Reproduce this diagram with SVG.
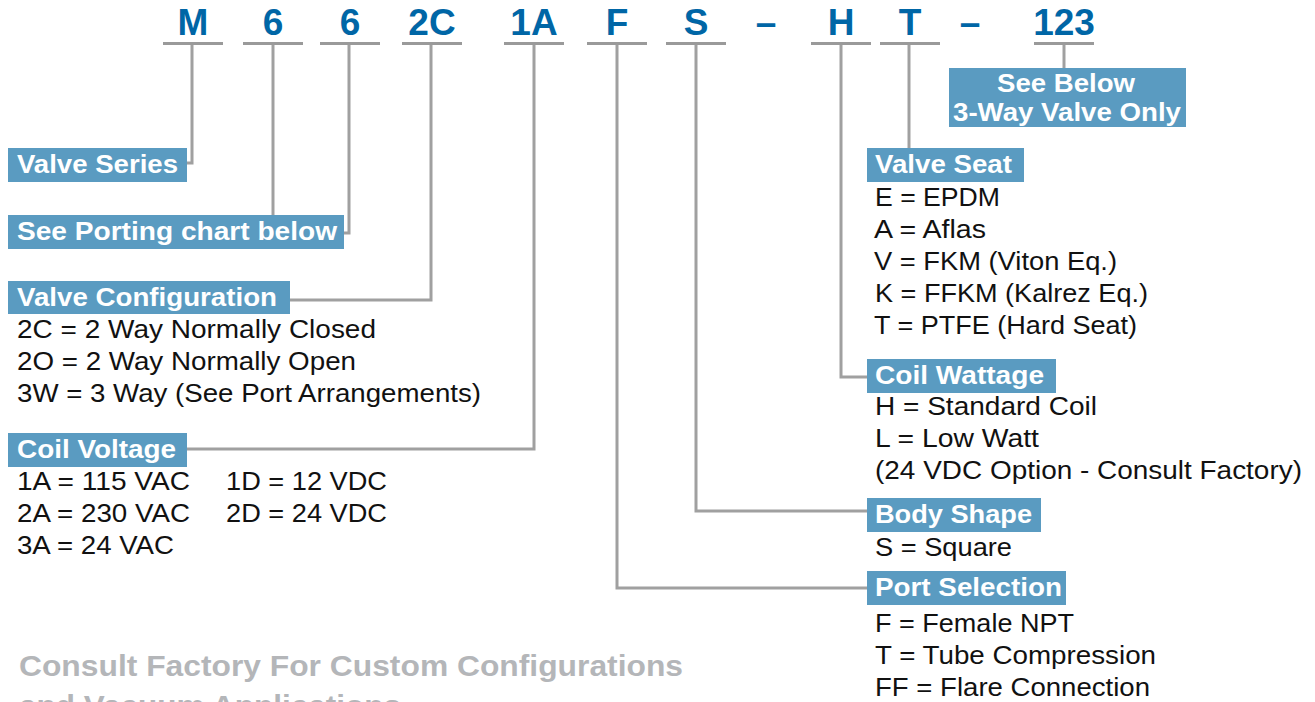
<svg xmlns="http://www.w3.org/2000/svg" width="1315" height="702" viewBox="0 0 1315 702">
<style>
.code{font-family:"Liberation Sans",Arial,sans-serif;font-weight:bold;font-size:37px;fill:#0066A6;text-anchor:middle}
.bar{stroke:#9a9a9a;stroke-width:3;fill:none}
.conn{stroke:#a0a0a0;stroke-width:3;fill:none}
.box{fill:#5A9BC1}
.ttl{font-family:"Liberation Sans",Arial,sans-serif;font-weight:bold;font-size:25px;fill:#ffffff}
.txt{font-family:"Liberation Sans",Arial,sans-serif;font-size:25px;fill:#111111}
.note{font-family:"Liberation Sans",Arial,sans-serif;font-weight:bold;font-size:29px;fill:#B4B6B9}
</style>
<rect width="1315" height="702" fill="#ffffff"/>
<g id="code">
<text class="code" x="193" y="35">M</text>
<text class="code" x="273" y="35">6</text>
<text class="code" x="350" y="35">6</text>
<text class="code" x="432" y="35">2C</text>
<text class="code" x="534" y="35">1A</text>
<text class="code" x="617" y="35">F</text>
<text class="code" x="696" y="35">S</text>
<text class="code" x="766" y="35">–</text>
<text class="code" x="841" y="35">H</text>
<text class="code" x="910" y="35">T</text>
<text class="code" x="970" y="35">–</text>
<text class="code" x="1064" y="35">123</text>
<path class="bar" d="M163 43.5H223M243 43.5H303M320 43.5H380M402 43.5H462M504 43.5H564M587 43.5H647M666 43.5H726M811 43.5H871M880 43.5H940M1034 43.5H1094"/>
</g>
<g id="connectors">
<path class="conn" d="M192 45V163H187"/>
<path class="conn" d="M273 45V215"/>
<path class="conn" d="M349 45V233H344"/>
<path class="conn" d="M431 45V300H290"/>
<path class="conn" d="M534 45V449H187"/>
<path class="conn" d="M617 45V588H867"/>
<path class="conn" d="M696 45V511H867"/>
<path class="conn" d="M841 45V377H867"/>
<path class="conn" d="M909 45V148"/>
<path class="conn" d="M1064 45V68"/>
</g>
<g id="valve-series">
<rect class="box" x="8" y="148" width="179" height="34"/>
<text class="ttl" x="17" y="173" textLength="161" lengthAdjust="spacingAndGlyphs">Valve Series</text>
</g>
<g id="porting">
<rect class="box" x="8" y="215" width="336" height="34"/>
<text class="ttl" x="17" y="240" textLength="320" lengthAdjust="spacingAndGlyphs">See Porting chart below</text>
</g>
<g id="valve-configuration">
<rect class="box" x="8" y="281" width="282" height="33"/>
<text class="ttl" x="17" y="306" textLength="260" lengthAdjust="spacingAndGlyphs">Valve Configuration</text>
<text class="txt" x="17" y="338" textLength="359" lengthAdjust="spacingAndGlyphs">2C = 2 Way Normally Closed</text>
<text class="txt" x="17" y="370" textLength="339" lengthAdjust="spacingAndGlyphs">2O = 2 Way Normally Open</text>
<text class="txt" x="17" y="402" textLength="464" lengthAdjust="spacingAndGlyphs">3W = 3 Way (See Port Arrangements)</text>
</g>
<g id="coil-voltage">
<rect class="box" x="8" y="433" width="179" height="34"/>
<text class="ttl" x="17" y="458" textLength="159" lengthAdjust="spacingAndGlyphs">Coil Voltage</text>
<text class="txt" x="17" y="490" textLength="173" lengthAdjust="spacingAndGlyphs">1A = 115 VAC</text>
<text class="txt" x="226" y="490" textLength="161" lengthAdjust="spacingAndGlyphs">1D = 12 VDC</text>
<text class="txt" x="17" y="522" textLength="173" lengthAdjust="spacingAndGlyphs">2A = 230 VAC</text>
<text class="txt" x="226" y="522" textLength="161" lengthAdjust="spacingAndGlyphs">2D = 24 VDC</text>
<text class="txt" x="17" y="554" textLength="157" lengthAdjust="spacingAndGlyphs">3A = 24 VAC</text>
</g>
<g id="see-below">
<rect class="box" x="949" y="68" width="237" height="59"/>
<text class="ttl" x="1066" y="92" text-anchor="middle" textLength="138" lengthAdjust="spacingAndGlyphs">See Below</text>
<text class="ttl" x="1067" y="121" text-anchor="middle" textLength="228" lengthAdjust="spacingAndGlyphs">3-Way Valve Only</text>
</g>
<g id="valve-seat">
<rect class="box" x="867" y="148" width="157" height="34"/>
<text class="ttl" x="875" y="173" textLength="137" lengthAdjust="spacingAndGlyphs">Valve Seat</text>
<text class="txt" x="875" y="206" textLength="125" lengthAdjust="spacingAndGlyphs">E = EPDM</text>
<text class="txt" x="874" y="238" textLength="112" lengthAdjust="spacingAndGlyphs">A = Aflas</text>
<text class="txt" x="874" y="270" textLength="243" lengthAdjust="spacingAndGlyphs">V = FKM (Viton Eq.)</text>
<text class="txt" x="875" y="302" textLength="273" lengthAdjust="spacingAndGlyphs">K = FFKM (Kalrez Eq.)</text>
<text class="txt" x="874" y="334" textLength="263" lengthAdjust="spacingAndGlyphs">T = PTFE (Hard Seat)</text>
</g>
<g id="coil-wattage">
<rect class="box" x="867" y="359" width="189" height="34"/>
<text class="ttl" x="875" y="384" textLength="169" lengthAdjust="spacingAndGlyphs">Coil Wattage</text>
<text class="txt" x="875" y="415" textLength="222" lengthAdjust="spacingAndGlyphs">H = Standard Coil</text>
<text class="txt" x="875" y="447" textLength="164" lengthAdjust="spacingAndGlyphs">L = Low Watt</text>
<text class="txt" x="875" y="479" textLength="427" lengthAdjust="spacingAndGlyphs">(24 VDC Option - Consult Factory)</text>
</g>
<g id="body-shape">
<rect class="box" x="867" y="498" width="174" height="34"/>
<text class="ttl" x="875" y="523" textLength="157" lengthAdjust="spacingAndGlyphs">Body Shape</text>
<text class="txt" x="875" y="556" textLength="137" lengthAdjust="spacingAndGlyphs">S = Square</text>
</g>
<g id="port-selection">
<rect class="box" x="867" y="571" width="199" height="34"/>
<text class="ttl" x="875" y="596" textLength="187" lengthAdjust="spacingAndGlyphs">Port Selection</text>
<text class="txt" x="875" y="632" textLength="199" lengthAdjust="spacingAndGlyphs">F = Female NPT</text>
<text class="txt" x="875" y="664" textLength="281" lengthAdjust="spacingAndGlyphs">T = Tube Compression</text>
<text class="txt" x="875" y="696" textLength="275" lengthAdjust="spacingAndGlyphs">FF = Flare Connection</text>
</g>
<g id="footnote">
<text class="note" x="19" y="676" textLength="664" lengthAdjust="spacingAndGlyphs">Consult Factory For Custom Configurations</text>
<text class="note" x="19" y="716" textLength="382" lengthAdjust="spacingAndGlyphs">and Vacuum Applications</text>
</g>
</svg>
